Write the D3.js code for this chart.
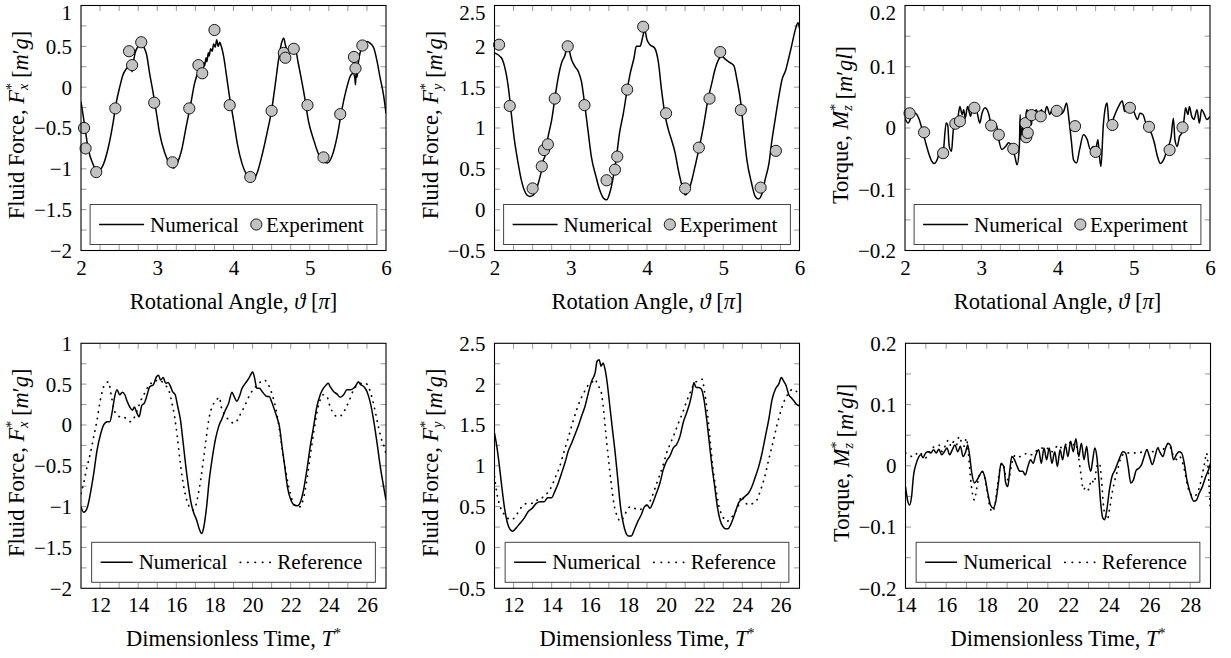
<!DOCTYPE html>
<html>
<head>
<meta charset="utf-8">
<script src="https://cdn.jsdelivr.net/npm/d3@7"></script>
<style>
  body { margin: 0; background: #fff; }
  svg { display: block; }
  text { font-family: "Liberation Serif", "DejaVu Serif", serif; font-size: 21px; fill: #000; }
  text.title { font-size: 22.5px; }
</style>
</head>
<body>
<div class="container"></div>
<script>
// ---- data ----
var fxAngleNumerical = [[2.00,-0.18],[2.05,-0.48],[2.09,-0.73],[2.16,-0.95],[2.21,-1.02],[2.25,-1.01],[2.30,-0.93],[2.35,-0.77],[2.42,-0.44],[2.46,-0.20],[2.51,0.01],[2.55,0.15],[2.60,0.23],[2.64,0.27],[2.66,0.24],[2.67,0.19],[2.68,0.26],[2.71,0.42],[2.75,0.50],[2.79,0.55],[2.82,0.50],[2.86,0.40],[2.90,0.17],[2.95,-0.09],[2.99,-0.32],[3.03,-0.56],[3.10,-0.81],[3.17,-0.95],[3.21,-0.99],[3.25,-0.95],[3.32,-0.77],[3.38,-0.48],[3.44,-0.20],[3.49,0.05],[3.54,0.19],[3.58,0.25],[3.60,0.22],[3.61,0.30],[3.62,0.26],[3.64,0.36],[3.65,0.31],[3.67,0.42],[3.68,0.38],[3.70,0.47],[3.72,0.44],[3.74,0.53],[3.76,0.49],[3.78,0.58],[3.80,0.50],[3.82,0.55],[3.84,0.50],[3.87,0.38],[3.91,0.13],[3.95,-0.13],[4.00,-0.40],[4.05,-0.69],[4.11,-0.93],[4.17,-1.07],[4.22,-1.13],[4.26,-1.13],[4.31,-1.05],[4.37,-0.85],[4.44,-0.56],[4.50,-0.28],[4.55,0.05],[4.59,0.33],[4.63,0.54],[4.66,0.60],[4.68,0.52],[4.72,0.44],[4.76,0.46],[4.81,0.46],[4.85,0.29],[4.90,0.05],[4.94,-0.16],[4.98,-0.40],[5.05,-0.64],[5.12,-0.83],[5.18,-0.91],[5.23,-0.93],[5.29,-0.85],[5.36,-0.60],[5.42,-0.28],[5.49,0.01],[5.53,0.13],[5.57,0.17],[5.59,0.12],[5.60,0.03],[5.61,0.20],[5.62,0.12],[5.64,0.32],[5.66,0.42],[5.71,0.52],[5.75,0.56],[5.79,0.54],[5.84,0.48],[5.88,0.33],[5.92,0.13],[5.97,-0.11],[6.00,-0.32]];
var fxAngleExperiment = [[2.04,-0.50],[2.06,-0.75],[2.20,-1.04],[2.45,-0.26],[2.63,0.44],[2.67,0.27],[2.79,0.55],[2.96,-0.19],[3.20,-0.92],[3.42,-0.26],[3.54,0.27],[3.59,0.17],[3.75,0.70],[3.95,-0.22],[4.22,-1.10],[4.50,-0.29],[4.66,0.42],[4.68,0.36],[4.79,0.47],[4.97,-0.22],[5.18,-0.86],[5.40,-0.33],[5.58,0.37],[5.60,0.23],[5.69,0.51]];

var fyAngleNumerical = [[2.00,1.92],[2.09,1.86],[2.13,1.76],[2.18,1.51],[2.22,1.18],[2.26,0.86],[2.31,0.57],[2.35,0.37],[2.41,0.20],[2.46,0.16],[2.51,0.18],[2.57,0.31],[2.61,0.45],[2.63,0.52],[2.64,0.60],[2.66,0.65],[2.70,0.88],[2.75,1.10],[2.79,1.35],[2.83,1.59],[2.88,1.80],[2.92,1.88],[2.96,2.00],[3.01,1.84],[3.05,1.76],[3.10,1.69],[3.14,1.57],[3.18,1.31],[3.23,0.94],[3.27,0.65],[3.33,0.41],[3.38,0.24],[3.43,0.14],[3.47,0.12],[3.51,0.20],[3.56,0.41],[3.60,0.65],[3.64,0.94],[3.69,1.18],[3.74,1.47],[3.78,1.67],[3.83,1.86],[3.86,2.00],[3.91,2.00],[3.94,2.10],[3.97,2.20],[4.00,2.08],[4.04,2.02],[4.10,1.98],[4.15,1.80],[4.19,1.47],[4.24,1.14],[4.28,0.98],[4.32,0.86],[4.37,0.69],[4.41,0.49],[4.46,0.29],[4.50,0.18],[4.54,0.22],[4.59,0.37],[4.63,0.53],[4.69,0.78],[4.74,1.02],[4.80,1.35],[4.85,1.55],[4.89,1.71],[4.94,1.84],[4.98,1.88],[5.03,1.84],[5.09,1.80],[5.14,1.76],[5.18,1.59],[5.23,1.31],[5.27,0.94],[5.31,0.61],[5.37,0.33],[5.42,0.16],[5.46,0.13],[5.51,0.20],[5.55,0.37],[5.60,0.57],[5.64,0.86],[5.68,1.10],[5.73,1.39],[5.77,1.59],[5.82,1.71],[5.86,1.86],[5.90,2.02],[5.95,2.22],[5.98,2.29],[6.00,2.22]];
var fyAngleExperiment = [[2.06,2.02],[2.20,1.27],[2.50,0.26],[2.62,0.53],[2.65,0.73],[2.70,0.80],[2.79,1.36],[2.96,2.00],[3.18,1.28],[3.47,0.36],[3.58,0.49],[3.61,0.65],[3.74,1.47],[3.95,2.24],[4.25,1.18],[4.50,0.26],[4.68,0.76],[4.82,1.36],[4.96,1.93],[5.23,1.22],[5.49,0.27],[5.69,0.72]];

var mzAngleNumerical = [[2.00,0.016],[2.04,0.008],[2.09,0.020],[2.13,0.024],[2.18,0.016],[2.22,0.000],[2.26,-0.019],[2.31,-0.041],[2.35,-0.054],[2.38,-0.058],[2.43,-0.049],[2.46,-0.035],[2.50,-0.046],[2.51,-0.030],[2.54,0.008],[2.56,0.005],[2.58,-0.030],[2.61,-0.038],[2.63,-0.008],[2.65,0.011],[2.68,0.003],[2.70,0.022],[2.72,0.035],[2.75,0.022],[2.77,0.030],[2.79,0.016],[2.82,0.035],[2.86,0.019],[2.88,0.030],[2.91,0.024],[2.94,0.027],[2.98,0.008],[3.01,0.024],[3.05,0.033],[3.10,0.022],[3.13,0.003],[3.16,-0.003],[3.20,0.005],[3.23,-0.019],[3.27,-0.035],[3.32,-0.030],[3.36,-0.024],[3.41,-0.033],[3.44,-0.046],[3.47,-0.060],[3.50,-0.030],[3.51,0.022],[3.52,-0.019],[3.54,0.003],[3.55,-0.020],[3.56,-0.014],[3.57,0.010],[3.58,-0.020],[3.59,0.025],[3.60,0.030],[3.62,0.019],[3.64,0.024],[3.66,0.005],[3.67,0.028],[3.69,0.019],[3.72,0.030],[3.75,0.022],[3.79,0.030],[3.82,0.019],[3.86,0.035],[3.90,0.022],[3.93,0.030],[3.96,0.022],[4.00,0.033],[4.04,0.022],[4.08,0.027],[4.12,0.041],[4.15,0.014],[4.18,-0.019],[4.21,-0.052],[4.25,-0.057],[4.29,-0.035],[4.34,-0.011],[4.39,-0.019],[4.43,-0.035],[4.47,-0.030],[4.50,-0.035],[4.53,-0.019],[4.55,-0.046],[4.57,-0.063],[4.60,0.003],[4.63,0.035],[4.65,0.041],[4.68,0.000],[4.70,-0.003],[4.73,0.014],[4.76,0.024],[4.80,0.035],[4.85,0.044],[4.88,0.027],[4.92,0.030],[4.96,0.035],[5.00,0.027],[5.05,0.014],[5.08,0.024],[5.12,0.022],[5.17,0.003],[5.21,-0.003],[5.27,-0.024],[5.31,-0.046],[5.35,-0.058],[5.39,-0.052],[5.44,-0.035],[5.49,-0.014],[5.52,0.016],[5.54,-0.019],[5.57,-0.030],[5.60,-0.014],[5.63,-0.008],[5.66,0.014],[5.68,0.033],[5.71,0.022],[5.73,0.035],[5.76,0.019],[5.79,0.014],[5.83,0.030],[5.86,0.008],[5.89,0.030],[5.92,0.024],[5.96,0.014],[6.00,0.019]];
var mzAngleExperiment = [[2.06,0.024],[2.25,-0.007],[2.50,-0.041],[2.66,0.007],[2.72,0.011],[2.91,0.033],[3.13,0.004],[3.23,-0.011],[3.42,-0.034],[3.58,0.008],[3.59,-0.015],[3.61,-0.008],[3.66,0.021],[3.78,0.019],[3.99,0.028],[4.23,0.003],[4.50,-0.039],[4.72,0.005],[4.95,0.033],[5.20,0.002],[5.47,-0.036],[5.64,0.001]];

var fxTimeNumerical = [[11.00,-1.00],[11.14,-1.07],[11.32,-1.02],[11.49,-0.84],[11.67,-0.59],[11.84,-0.31],[12.02,-0.12],[12.19,0.00],[12.37,0.04],[12.51,0.04],[12.65,0.18],[12.77,0.35],[12.89,0.43],[13.03,0.37],[13.17,0.40],[13.30,0.37],[13.42,0.29],[13.56,0.22],[13.70,0.18],[13.80,0.22],[13.91,0.16],[14.05,0.10],[14.19,0.24],[14.33,0.27],[14.47,0.37],[14.61,0.47],[14.79,0.49],[14.96,0.59],[15.07,0.61],[15.17,0.55],[15.31,0.58],[15.45,0.51],[15.57,0.52],[15.70,0.47],[15.80,0.41],[15.94,0.37],[16.08,0.22],[16.22,0.06],[16.36,-0.22],[16.50,-0.51],[16.64,-0.76],[16.78,-0.96],[16.92,-1.08],[17.06,-1.16],[17.20,-1.27],[17.33,-1.33],[17.45,-1.24],[17.59,-1.00],[17.73,-0.67],[17.87,-0.43],[18.05,-0.18],[18.22,-0.02],[18.40,0.08],[18.57,0.18],[18.75,0.27],[18.92,0.40],[19.03,0.35],[19.17,0.29],[19.31,0.35],[19.45,0.45],[19.62,0.51],[19.80,0.57],[19.94,0.63],[20.01,0.65],[20.11,0.57],[20.22,0.45],[20.36,0.45],[20.50,0.41],[20.64,0.37],[20.74,0.35],[20.88,0.35],[20.99,0.29],[21.13,0.20],[21.27,0.10],[21.41,-0.02],[21.55,-0.27],[21.69,-0.51],[21.83,-0.76],[22.01,-0.92],[22.18,-0.98],[22.36,-0.99],[22.50,-0.95],[22.67,-0.80],[22.85,-0.55],[23.02,-0.27],[23.20,-0.02],[23.37,0.22],[23.55,0.37],[23.72,0.45],[23.86,0.49],[23.97,0.51],[24.07,0.47],[24.25,0.41],[24.42,0.38],[24.60,0.34],[24.78,0.37],[24.95,0.43],[25.13,0.43],[25.30,0.45],[25.44,0.49],[25.55,0.53],[25.65,0.50],[25.83,0.47],[26.00,0.41],[26.18,0.27],[26.35,0.06],[26.53,-0.22],[26.70,-0.51],[26.88,-0.76],[27.00,-0.92]];
var fxTimeReference = [[11.00,-0.84],[11.14,-0.71],[11.32,-0.51],[11.49,-0.35],[11.67,-0.14],[11.84,0.06],[12.02,0.31],[12.19,0.47],[12.33,0.51],[12.44,0.53],[12.58,0.37],[12.72,0.20],[12.89,0.12],[13.07,0.10],[13.24,0.10],[13.42,0.06],[13.60,0.04],[13.77,0.08],[13.95,0.18],[14.12,0.29],[14.30,0.37],[14.47,0.45],[14.65,0.51],[14.82,0.51],[15.00,0.55],[15.17,0.54],[15.35,0.51],[15.49,0.47],[15.63,0.41],[15.77,0.27],[15.91,0.10],[16.05,-0.14],[16.19,-0.43],[16.33,-0.67],[16.50,-0.88],[16.68,-1.00],[16.86,-1.04],[17.00,-1.00],[17.14,-0.86],[17.28,-0.67],[17.42,-0.43],[17.56,-0.18],[17.70,0.06],[17.84,0.20],[17.98,0.27],[18.12,0.31],[18.26,0.34],[18.36,0.22],[18.51,0.14],[18.68,0.08],[18.86,0.04],[19.03,0.02],[19.21,0.06],[19.38,0.14],[19.56,0.22],[19.73,0.31],[19.91,0.39],[20.08,0.45],[20.26,0.49],[20.43,0.53],[20.61,0.55],[20.74,0.53],[20.88,0.47],[21.06,0.35],[21.24,0.18],[21.41,-0.06],[21.59,-0.35],[21.76,-0.59],[21.94,-0.80],[22.11,-0.94],[22.32,-1.00],[22.50,-1.00],[22.67,-0.90],[22.85,-0.67],[23.02,-0.39],[23.20,-0.10],[23.37,0.14],[23.55,0.31],[23.72,0.37],[23.90,0.35],[24.07,0.22],[24.25,0.14],[24.46,0.10],[24.67,0.12],[24.88,0.20],[25.09,0.31],[25.30,0.43],[25.51,0.49],[25.72,0.51],[25.93,0.51],[26.07,0.47],[26.25,0.35],[26.42,0.18],[26.60,-0.02],[26.77,-0.18],[26.91,-0.27],[27.00,-0.35]];

var fyTimeNumerical = [[11.00,1.40],[11.12,1.24],[11.26,0.99],[11.40,0.71],[11.54,0.46],[11.68,0.30],[11.82,0.22],[11.96,0.20],[12.14,0.24],[12.35,0.30],[12.56,0.36],[12.77,0.44],[12.98,0.48],[13.19,0.54],[13.40,0.56],[13.61,0.56],[13.79,0.61],[14.00,0.61],[14.17,0.69],[14.35,0.79],[14.52,0.91],[14.70,1.04],[14.87,1.18],[15.05,1.28],[15.22,1.38],[15.40,1.49],[15.57,1.61],[15.75,1.73],[15.92,1.89],[16.10,2.04],[16.28,2.14],[16.38,2.28],[16.49,2.30],[16.59,2.22],[16.70,2.26],[16.80,2.18],[16.91,2.02],[17.05,1.73],[17.19,1.44],[17.33,1.16],[17.47,0.83],[17.61,0.50],[17.75,0.30],[17.89,0.18],[18.03,0.14],[18.17,0.14],[18.34,0.22],[18.52,0.32],[18.70,0.40],[18.87,0.50],[19.01,0.52],[19.15,0.48],[19.33,0.56],[19.50,0.67],[19.68,0.79],[19.85,0.95],[20.03,1.06],[20.20,1.12],[20.38,1.22],[20.55,1.26],[20.73,1.36],[20.90,1.53],[21.08,1.65],[21.22,1.75],[21.36,1.89],[21.46,2.02],[21.57,1.96],[21.71,1.96],[21.85,1.94],[21.99,1.81],[22.13,1.57],[22.27,1.28],[22.41,0.99],[22.55,0.75],[22.69,0.50],[22.83,0.34],[22.97,0.26],[23.11,0.23],[23.25,0.23],[23.39,0.28],[23.53,0.36],[23.67,0.46],[23.81,0.55],[23.98,0.59],[24.16,0.63],[24.34,0.67],[24.51,0.75],[24.69,0.87],[24.86,0.99],[25.04,1.16],[25.21,1.36],[25.39,1.57],[25.56,1.81],[25.74,1.94],[25.91,2.00],[26.05,2.08],[26.16,2.04],[26.30,1.98],[26.44,1.87],[26.58,1.83],[26.72,1.79],[26.86,1.75],[27.00,1.73]];
var fyTimeReference = [[11.00,0.87],[11.12,0.67],[11.30,0.50],[11.47,0.42],[11.68,0.36],[11.89,0.34],[12.10,0.38],[12.31,0.46],[12.52,0.52],[12.73,0.54],[12.95,0.54],[13.16,0.58],[13.37,0.58],[13.58,0.63],[13.79,0.67],[14.00,0.75],[14.21,0.87],[14.42,0.99],[14.63,1.16],[14.84,1.32],[15.05,1.49],[15.26,1.65],[15.47,1.79],[15.68,1.89],[15.89,1.98],[16.10,2.02],[16.28,2.06],[16.42,1.98],[16.56,1.94],[16.70,1.73],[16.84,1.40],[16.98,1.08],[17.12,0.79],[17.26,0.54],[17.44,0.38],[17.61,0.32],[17.79,0.38],[17.96,0.46],[18.14,0.50],[18.35,0.48],[18.56,0.46],[18.77,0.48],[18.98,0.52],[19.19,0.58],[19.40,0.71],[19.61,0.85],[19.82,0.99],[20.03,1.16],[20.24,1.28],[20.45,1.40],[20.66,1.53],[20.87,1.65],[21.08,1.79],[21.29,1.91],[21.50,2.02],[21.71,2.04],[21.89,2.06],[22.03,1.89],[22.17,1.65],[22.31,1.32],[22.45,0.99],[22.62,0.71],[22.80,0.48],[22.97,0.38],[23.15,0.32],[23.36,0.34],[23.57,0.42],[23.78,0.50],[23.96,0.63],[24.13,0.56],[24.34,0.52],[24.55,0.54],[24.76,0.58],[24.97,0.71],[25.18,0.87],[25.39,1.08],[25.60,1.28],[25.81,1.49],[26.02,1.67],[26.23,1.81],[26.44,1.89],[26.65,1.94],[26.86,1.91],[27.00,1.94]];

var mzTimeNumerical = [[14.00,-0.034],[14.10,-0.056],[14.20,-0.064],[14.30,-0.050],[14.39,-0.017],[14.53,0.004],[14.66,0.015],[14.76,0.018],[14.86,0.013],[14.99,0.021],[15.12,0.023],[15.25,0.021],[15.38,0.026],[15.51,0.021],[15.64,0.027],[15.78,0.018],[15.91,0.023],[16.04,0.029],[16.17,0.018],[16.30,0.026],[16.43,0.034],[16.57,0.023],[16.70,0.032],[16.83,0.015],[16.96,0.023],[17.06,0.034],[17.16,0.015],[17.26,-0.012],[17.39,-0.028],[17.52,-0.023],[17.65,-0.015],[17.78,-0.009],[17.91,-0.020],[18.05,-0.045],[18.18,-0.064],[18.31,-0.069],[18.44,-0.058],[18.57,-0.028],[18.70,0.004],[18.83,-0.001],[18.93,-0.028],[19.03,-0.034],[19.13,-0.007],[19.23,0.015],[19.36,0.010],[19.49,-0.001],[19.63,-0.009],[19.76,-0.009],[19.89,-0.015],[20.02,-0.001],[20.15,0.010],[20.28,0.004],[20.41,0.018],[20.55,0.026],[20.68,0.004],[20.81,0.029],[20.94,0.010],[21.07,0.029],[21.20,0.004],[21.34,0.023],[21.47,-0.001],[21.60,0.026],[21.73,0.010],[21.86,0.034],[21.99,0.015],[22.12,0.040],[22.25,0.023],[22.38,0.044],[22.52,0.015],[22.65,0.037],[22.78,0.010],[22.91,0.032],[23.01,0.004],[23.11,-0.009],[23.21,0.010],[23.31,0.029],[23.41,0.015],[23.51,-0.023],[23.60,-0.061],[23.70,-0.085],[23.80,-0.088],[23.90,-0.072],[24.03,-0.039],[24.16,-0.017],[24.30,-0.007],[24.43,0.004],[24.56,0.015],[24.69,0.023],[24.82,0.021],[24.95,-0.001],[25.08,-0.028],[25.21,-0.023],[25.35,-0.007],[25.48,-0.004],[25.61,0.002],[25.74,0.015],[25.87,0.026],[26.00,0.015],[26.14,0.002],[26.27,0.015],[26.40,0.029],[26.53,0.021],[26.66,0.015],[26.79,0.029],[26.92,0.037],[27.05,0.032],[27.18,0.010],[27.32,0.018],[27.45,0.023],[27.58,0.021],[27.71,0.004],[27.84,-0.023],[28.01,-0.045],[28.18,-0.058],[28.31,-0.056],[28.44,-0.045],[28.60,-0.034],[28.77,-0.017],[28.90,-0.007],[29.00,0.004]];
var mzTimeReference = [[14.00,0.021],[14.16,0.018],[14.33,0.015],[14.49,0.018],[14.66,0.023],[14.82,0.018],[14.99,0.013],[15.15,0.021],[15.32,0.029],[15.48,0.032],[15.64,0.034],[15.81,0.023],[15.97,0.034],[16.11,0.042],[16.24,0.032],[16.38,0.040],[16.50,0.034],[16.64,0.048],[16.77,0.037],[16.89,0.032],[16.99,0.045],[17.09,0.021],[17.19,-0.017],[17.29,-0.045],[17.39,-0.056],[17.49,-0.039],[17.62,-0.017],[17.75,-0.009],[17.88,-0.017],[18.01,-0.039],[18.14,-0.066],[18.28,-0.075],[18.41,-0.061],[18.54,-0.028],[18.67,-0.001],[18.80,0.004],[18.93,-0.017],[19.07,-0.023],[19.20,-0.001],[19.33,0.015],[19.46,0.018],[19.63,0.015],[19.82,0.018],[20.02,0.021],[20.22,0.018],[20.38,0.023],[20.55,0.026],[20.71,0.029],[20.87,0.026],[21.04,0.029],[21.20,0.023],[21.37,0.029],[21.53,0.034],[21.69,0.029],[21.86,0.034],[22.03,0.040],[22.19,0.032],[22.35,0.037],[22.48,0.021],[22.62,-0.012],[22.75,-0.039],[22.88,-0.034],[23.01,-0.039],[23.14,-0.023],[23.28,-0.028],[23.41,-0.001],[23.54,0.004],[23.64,-0.023],[23.74,-0.066],[23.84,-0.083],[23.93,-0.088],[24.03,-0.072],[24.16,-0.045],[24.30,-0.023],[24.43,-0.007],[24.56,0.010],[24.69,0.018],[24.82,0.021],[24.99,0.021],[25.15,0.021],[25.32,0.021],[25.48,0.021],[25.64,0.023],[25.81,0.026],[25.97,0.026],[26.14,0.023],[26.30,0.026],[26.46,0.029],[26.63,0.026],[26.79,0.032],[26.96,0.037],[27.09,0.023],[27.22,0.015],[27.35,0.010],[27.48,0.015],[27.61,0.007],[27.75,-0.012],[27.88,-0.034],[28.01,-0.045],[28.18,-0.050],[28.34,-0.045],[28.51,-0.028],[28.64,-0.007],[28.74,0.010],[28.80,0.021],[28.87,0.004],[28.93,-0.034],[29.00,-0.072]];

// tick labels
var angleTicks = [2, 3, 4, 5, 6];
var timeTicksFx = [12, 14, 16, 18, 20, 22, 24, 26];
var timeTicksMz = [14, 16, 18, 20, 22, 24, 26, 28];
var fxTicks = [-2, -1.5, -1, -0.5, 0, 0.5, 1];
var fyTicks = [-0.5, 0, 0.5, 1, 1.5, 2, 2.5];
var mzTicks = [-0.2, -0.1, 0, 0.1, 0.2];

var svgWidth = 1231;
var svgHeight = 658;
var plotW = 305, plotH = 245;

var svg = d3.select(".container")
    .append("svg")
    .attr("width", svgWidth)
    .attr("height", svgHeight);

var fxLabel = [["Fluid Force, ", ""], ["F", "i"], ["*", "sup"], ["x", "sub"], [" [", ""], ["m", "i"], ["′", ""], ["g", "i"], ["]", ""]];
var fyLabel = [["Fluid Force, ", ""], ["F", "i"], ["*", "sup"], ["y", "sub"], [" [", ""], ["m", "i"], ["′", ""], ["g", "i"], ["]", ""]];
var mzLabel = [["Torque, ", ""], ["M", "i"], ["*", "sup"], ["z", "sub"], [" [", ""], ["m", "i"], ["′", ""], ["g", "i"], ["l", "i"], ["]", ""]];
var angLabel = function(word) { return [[word + " Angle, ", ""], ["ϑ", "i"], [" [", ""], ["π", "i"], ["]", ""]]; };
var timeLabel = [["Dimensionless Time, ", ""], ["T", "i"], ["*", "sup"]];

var panels = [
    {left: 81, top: 5.5, x: [2, 6], xt: angleTicks, xStep: 0.25, y: [-2, 1], yt: fxTicks, yStep: 0.25,
     xl: angLabel("Rotational"), yl: fxLabel, num: fxAngleNumerical, exp: fxAngleExperiment},
    {left: 494.5, top: 5.5, x: [2, 6], xt: angleTicks, xStep: 0.25, y: [-0.5, 2.5], yt: fyTicks, yStep: 0.25,
     xl: angLabel("Rotation"), yl: fyLabel, num: fyAngleNumerical, exp: fyAngleExperiment},
    {left: 905, top: 5.5, x: [2, 6], xt: angleTicks, xStep: 0.25, y: [-0.2, 0.2], yt: mzTicks, yStep: 0.05,
     xl: angLabel("Rotational"), yl: mzLabel, num: mzAngleNumerical, exp: mzAngleExperiment},
    {left: 81, top: 343.3, x: [11, 27], xt: timeTicksFx, xStep: 1, y: [-2, 1], yt: fxTicks, yStep: 0.25,
     xl: timeLabel, yl: fxLabel, num: fxTimeNumerical, ref: fxTimeReference},
    {left: 494.5, top: 343.3, x: [11, 27], xt: timeTicksFx, xStep: 1, y: [-0.5, 2.5], yt: fyTicks, yStep: 0.25,
     xl: timeLabel, yl: fyLabel, num: fyTimeNumerical, ref: fyTimeReference},
    {left: 905.5, top: 343.3, x: [14, 29], xt: timeTicksMz, xStep: 1, y: [-0.2, 0.2], yt: mzTicks, yStep: 0.05,
     xl: timeLabel, yl: mzLabel, num: mzTimeNumerical, ref: mzTimeReference}
];

var fmt = function(v) { return String(+v.toFixed(3)).replace("-", "−"); };
var dotted = "0.4,6";

function richText(sel, parts) {
    parts.forEach(function(p) {
        var t = sel.append("tspan").text(p[0]);
        if (p[1] === "i") t.style("font-style", "italic");
        if (p[1] === "sup") t.attr("dy", -8).style("font-size", "14px");
        if (p[1] === "sub") {
            t.attr("dx", -7).attr("dy", 12).style("font-size", "14px").style("font-style", "italic");
            sel.append("tspan").attr("dy", -4).text("");
        }
    });
}

panels.forEach(function(p, idx) {
    var g = svg.append("g").attr("transform", `translate(${p.left}, ${p.top})`);
    var xScale = d3.scaleLinear().domain(p.x).range([0, plotW]);
    var yScale = d3.scaleLinear().domain(p.y).range([plotH, 0]);

    g.append("clipPath").attr("id", "clip" + idx)
        .append("rect").attr("width", plotW).attr("height", plotH);

    // inward ticks on all four sides
    var nx = Math.round((p.x[1] - p.x[0]) / p.xStep);
    var xs = d3.range(1, nx).map(function(i) { return p.x[0] + i * p.xStep; });
    var ny = Math.round((p.y[1] - p.y[0]) / p.yStep);
    var ys = d3.range(1, ny).map(function(i) { return p.y[0] + i * p.yStep; });
    var tickLen = 5.5;
    var ticks = g.append("g").attr("stroke", "#8c8c8c").attr("stroke-width", 0.9);
    xs.forEach(function(v) {
        ticks.append("line").attr("x1", xScale(v)).attr("x2", xScale(v)).attr("y1", plotH).attr("y2", plotH - tickLen);
        ticks.append("line").attr("x1", xScale(v)).attr("x2", xScale(v)).attr("y1", 0).attr("y2", tickLen);
    });
    ys.forEach(function(v) {
        ticks.append("line").attr("y1", yScale(v)).attr("y2", yScale(v)).attr("x1", 0).attr("x2", tickLen);
        ticks.append("line").attr("y1", yScale(v)).attr("y2", yScale(v)).attr("x1", plotW).attr("x2", plotW - tickLen);
    });

    // tick labels via d3 axes (no lines)
    var bottomAxis = d3.axisBottom(xScale).tickValues(p.xt).tickSize(0).tickPadding(0).tickFormat(fmt);
    var leftAxis = d3.axisLeft(yScale).tickValues(p.yt).tickSize(0).tickPadding(0).tickFormat(fmt);
    var bx = g.append("g").attr("transform", `translate(0, ${plotH})`).call(bottomAxis)
        .attr("font-size", null).attr("font-family", null);
    bx.select(".domain").remove();
    bx.selectAll("text").attr("y", 24).attr("dy", 0);
    var ly = g.append("g").call(leftAxis).attr("font-size", null).attr("font-family", null);
    ly.select(".domain").remove();
    // keep the topmost label fully inside the page
    ly.selectAll("text").attr("x", -9)
        .attr("dy", function(d) {
            var top = p.top + yScale(d);
            return top < 9 ? (19 - top) + "px" : "0.33em";
        });

    // curves
    var line = d3.line().curve(d3.curveMonotoneX)
        .x(function(d) { return xScale(d[0]); }).y(function(d) { return yScale(d[1]); });
    var curves = g.append("g").attr("clip-path", `url(#clip${idx})`);
    if (p.ref) {
        curves.append("path").datum(p.ref)
            .attr("d", line).attr("fill", "none").attr("stroke", "#000")
            .attr("stroke-width", 1.7).attr("stroke-dasharray", dotted).attr("stroke-linecap", "round");
    }
    curves.append("path").datum(p.num)
        .attr("d", line).attr("fill", "none").attr("stroke", "#000")
        .attr("stroke-width", 1.5).attr("stroke-linejoin", "round");
    if (p.exp) {
        g.append("g").selectAll("circle")
            .data(p.exp).enter().append("circle")
            .attr("cx", function(d) { return xScale(d[0]); })
            .attr("cy", function(d) { return yScale(d[1]); })
            .attr("r", 5.6)
            .attr("fill", "#c2c2c2").attr("stroke", "#000").attr("stroke-width", 0.9);
    }

    // frame
    g.append("rect").attr("width", plotW).attr("height", plotH)
        .attr("fill", "none").attr("stroke", "#000").attr("stroke-width", 1.1);

    // legend
    var lg = g.append("g");
    var box = lg.append("rect").attr("fill", "#fff").attr("stroke", "#444").attr("stroke-width", 1);
    var sampleLen = p.exp ? 45 : 32;
    var cx = 0;
    lg.append("line").attr("x1", cx).attr("x2", cx + sampleLen).attr("y1", 0).attr("y2", 0)
        .attr("stroke", "#000").attr("stroke-width", 1.5);
    cx += sampleLen + 6;
    var t1 = lg.append("text").attr("x", cx).attr("y", 7).text("Numerical");
    cx += t1.node().getComputedTextLength() + 12;
    if (p.exp) {
        lg.append("circle").attr("cx", cx + 5.6).attr("cy", 0).attr("r", 5.6)
            .attr("fill", "#c2c2c2").attr("stroke", "#000").attr("stroke-width", 0.9);
        cx += 11.2 + 4;
        var t2 = lg.append("text").attr("x", cx).attr("y", 7).text("Experiment");
        cx += t2.node().getComputedTextLength();
    } else {
        lg.append("line").attr("x1", cx + 1).attr("x2", cx + sampleLen).attr("y1", 0).attr("y2", 0)
            .attr("stroke", "#000").attr("stroke-width", 1.7).attr("stroke-dasharray", "0.4,7")
            .attr("stroke-linecap", "round");
        cx += sampleLen + 6;
        var t3 = lg.append("text").attr("x", cx).attr("y", 7).text("Reference");
        cx += t3.node().getComputedTextLength();
    }
    var padL = 9, padR = 13, boxH = 40;
    var boxW = cx + padL + padR;
    box.attr("x", -padL).attr("y", -boxH / 2).attr("width", boxW).attr("height", boxH);
    lg.attr("transform", `translate(${(plotW - boxW) / 2 + padL}, ${plotH - 6 - boxH / 2})`);

    // axis titles
    var xt = g.append("text").attr("class", "title").attr("x", plotW / 2).attr("y", plotH + 58).attr("text-anchor", "middle");
    richText(xt, p.xl);
    var yt = g.append("text").attr("class", "title").attr("transform", `translate(-57, ${plotH / 2 - 3}) rotate(-90)`).attr("text-anchor", "middle");
    richText(yt, p.yl);
});
</script>
</body>
</html>
